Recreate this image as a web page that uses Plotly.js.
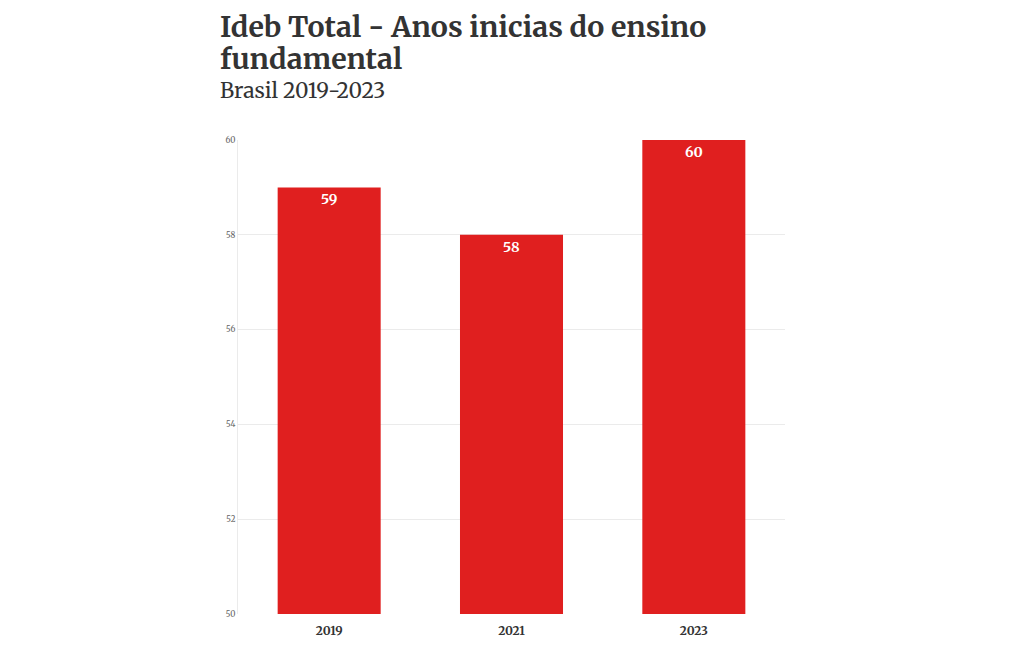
<!DOCTYPE html>
<html>
<head>
<meta charset="utf-8">
<script src="https://cdn.plot.ly/plotly-3.0.1.min.js"></script>
<style>html,body{margin:0;padding:0;background:#fff;}#chart{width:1020px;height:650px;}</style>
</head>
<body>
<div id="chart"></div>
<script>
var years = ['2019', '2021', '2023'];
var values = [59, 58, 60];
var yTicks = [50, 52, 54, 56, 58, 60];
var titleLines = ['Ideb Total - Anos inicias do ensino', 'fundamental'];
var subtitle = 'Brasil 2019-2023';

var serif = 'Merriweather, "DejaVu Serif", "Liberation Serif", serif';
var plotTop = 140, plotH = 474, plotL = 238, plotW = 547;
var textX = (218 - plotL) / plotW;
function py(px) { return 1 + (plotTop - px) / plotH; }

var trace = {
  type: 'bar',
  x: years,
  y: values,
  text: values.map(String),
  textposition: 'inside',
  insidetextanchor: 'end',
  textfont: {family: serif, size: 14, color: '#ffffff', weight: 'bold'},
  marker: {color: '#e01f1f'},
  hoverinfo: 'x+y',
  cliponaxis: false
};

var layout = {
  width: 1020,
  height: 650,
  margin: {l: 238, r: 235, t: 140, b: 36},
  paper_bgcolor: '#ffffff',
  plot_bgcolor: '#ffffff',
  bargap: 0.435,
  showlegend: false,
  font: {family: serif, color: '#333333'},
  annotations: [{
    text: '<b>' + titleLines[0] + '</b>',
    xref: 'paper', yref: 'paper',
    x: textX, xanchor: 'left',
    y: py(7), yanchor: 'top',
    align: 'left', showarrow: false,
    font: {family: serif, size: 28.5, color: '#333333'}
  }, {
    text: '<b>' + titleLines[1] + '</b>',
    xref: 'paper', yref: 'paper',
    x: textX, xanchor: 'left',
    y: py(39), yanchor: 'top',
    align: 'left', showarrow: false,
    font: {family: serif, size: 28.5, color: '#333333'}
  }, {
    text: subtitle,
    xref: 'paper', yref: 'paper',
    x: textX, xanchor: 'left',
    y: py(75), yanchor: 'top',
    align: 'left', showarrow: false,
    font: {family: serif, size: 21, color: '#333333'}
  }],
  xaxis: {
    type: 'category',
    tickfont: {family: serif, size: 12, color: '#333333', weight: 'bold'},
    showgrid: false,
    showline: false,
    zeroline: false,
    ticks: 'outside',
    tickcolor: 'rgba(0,0,0,0)',
    ticklen: 6
  },
  yaxis: {
    range: [50, 60],
    tickvals: yTicks,
    ticktext: yTicks.map(String),
    tickfont: {family: serif, size: 8, color: '#666666'},
    showgrid: true,
    gridcolor: '#ebebeb',
    gridwidth: 1,
    showline: true,
    linecolor: '#ebebeb',
    zeroline: false,
    ticks: '',
    ticklen: 0
  }
};

Plotly.newPlot('chart', [trace], layout, {displayModeBar: false, staticPlot: true});
</script>
</body>
</html>
